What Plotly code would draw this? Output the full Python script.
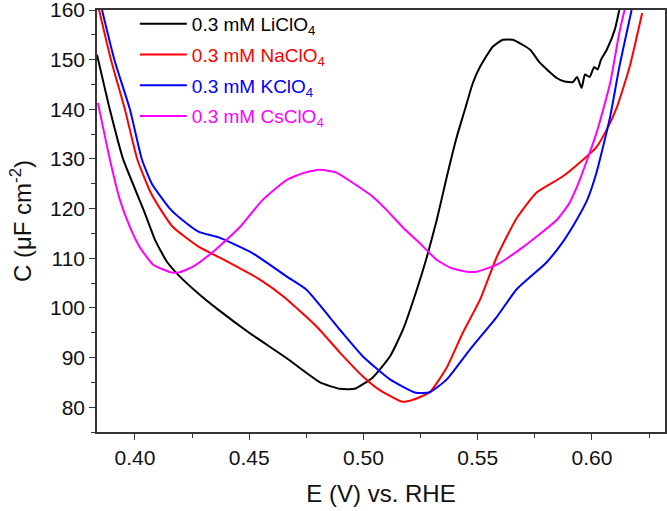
import plotly.graph_objects as go

# ---- data ----
li_x = [0.3834, 0.389, 0.3948, 0.404, 0.409, 0.414, 0.4197, 0.428, 0.436, 0.450, 0.466, 0.481, 0.4897, 0.4962,
        0.5041, 0.5116, 0.5173, 0.5234, 0.5278, 0.5321, 0.5365, 0.5409, 0.5444, 0.5479, 0.551, 0.5566,
        0.561, 0.5654, 0.573, 0.577, 0.5846, 0.588, 0.5917, 0.5935, 0.5955, 0.597, 0.599, 0.601, 0.6025,
        0.604, 0.6065, 0.61, 0.612]
li_y = [151, 140, 130, 119.5, 113.5, 109.3, 106.3, 102.8, 99.8, 95, 90, 85, 83.7, 83.7,
        86, 90.2, 95.6, 103.7, 110.3, 117.7, 126.4, 134.5, 139.9, 145.3, 148.5, 152.6,
        154, 154, 152, 149.5, 146.3, 145.6, 145.5, 146.5, 144.3, 147, 146.5, 148.5, 148,
        150, 152, 156, 160]

na_x = [0.3843, 0.3895, 0.3956, 0.401, 0.4066, 0.411, 0.4166, 0.428, 0.4372, 0.4547, 0.465, 0.4796, 0.4897,
        0.4998, 0.507, 0.517, 0.5217, 0.529, 0.5365, 0.5435, 0.551, 0.5584, 0.567, 0.5757, 0.587, 0.596,
        0.602, 0.6065, 0.611, 0.6165, 0.622]
na_y = [160, 150, 140, 130, 123.5, 120, 116.3, 112.3, 110.1, 105.7, 102.3, 96.2, 91,
        86.2, 83.5, 81.1, 81.5, 83, 88, 95, 101.6, 110.3, 118, 123.2, 126.4, 129.8,
        132.4, 135.9, 140.5, 148.5, 159.4]

k_x = [0.3856, 0.391, 0.3978, 0.403, 0.4074, 0.4153, 0.4205, 0.428, 0.4372, 0.4516, 0.4665, 0.475,
       0.4897, 0.4998, 0.5116, 0.523, 0.529, 0.5365, 0.5466, 0.5584, 0.567, 0.580, 0.587, 0.5933, 0.598,
       0.602, 0.608, 0.612, 0.6174]
k_y = [160, 150, 140, 130, 125, 120, 117.8, 115.3, 114.1, 111, 106.3, 103.7,
       95.6, 90.2, 85.6, 82.9, 83, 85.6, 91.6, 98.2, 103.7, 109.1, 113.1, 117.7, 121.8,
       127.2, 138.5, 148.5, 160]

cs_x = [0.3838, 0.389, 0.3934, 0.3978, 0.402, 0.408, 0.4162, 0.4197, 0.4254, 0.434, 0.4372, 0.446, 0.456,
        0.4665, 0.474, 0.4809, 0.488, 0.4953, 0.5041, 0.510, 0.5173, 0.5247, 0.532, 0.5385, 0.5453, 0.5496,
        0.5584, 0.570, 0.5846, 0.590, 0.5947, 0.602, 0.608, 0.612, 0.6143]
cs_y = [141.3, 130, 121.8, 116.3, 112.3, 108.7, 107.1, 107.2, 108.3, 111.2, 112.5, 116.3, 121.8,
        125.8, 127.2, 127.8, 127.3, 125.2, 122.4, 119.8, 116.2, 113.0, 109.7, 108.0, 107.3, 107.3,
        108.7, 112.3, 117.7, 121, 125.8, 135.2, 145.3, 155.4, 160]

series_names = ["0.3 mM LiClO<sub>4</sub>", "0.3 mM NaClO<sub>4</sub>",
                "0.3 mM KClO<sub>4</sub>", "0.3 mM CsClO<sub>4</sub>"]
series_colors = ["#000000", "#FF0000", "#0000FF", "#FF00FF"]
series_x = [li_x, na_x, k_x, cs_x]
series_y = [li_y, na_y, k_y, cs_y]

x_tickvals = [0.40, 0.45, 0.50, 0.55, 0.60]
y_tickvals = [80, 90, 100, 110, 120, 130, 140, 150, 160]

FONT = "Liberation Sans, Arial, sans-serif"

fig = go.Figure()
for i, (nm, col, xs, ys) in enumerate(zip(series_names, series_colors, series_x, series_y)):
    fig.add_trace(go.Scatter(
        x=xs, y=ys, mode="lines",
        name=f'<span style="color:{col}">{nm}</span>',
        legendgroup=f"g{i}",
        line=dict(color=col, width=2, shape="spline", smoothing=0.5),
    ))

axis_common = dict(
    showline=True, linecolor="#333333", linewidth=1.5, mirror=True,
    ticks="outside", ticklen=6, tickwidth=1.3, tickcolor="#333333",
    showgrid=False, zeroline=False, automargin=False,
    ticklabeloverflow="allow",
    tickfont=dict(family=FONT, size=21, color="#111111"),
)

fig.update_layout(
    width=667, height=511,
    margin=dict(l=97, r=2, t=10, b=79),
    paper_bgcolor="white", plot_bgcolor="white",
    font=dict(family=FONT, color="#111111"),
    xaxis=dict(range=[0.3834, 0.632], tickvals=x_tickvals, tickformat=".2f",
               minor=dict(ticks="outside", ticklen=4, tickwidth=1.2, tickcolor="#333333", dtick=0.025, tick0=0.4),
               title=dict(text="E (V) vs. RHE", font=dict(family=FONT, size=24), standoff=17),
               **axis_common),
    yaxis=dict(range=[75, 160], tickvals=y_tickvals,
               minor=dict(ticks="outside", ticklen=4, tickwidth=1.2, tickcolor="#333333", dtick=5, tick0=0),
               title=dict(text="C (μF cm<sup>-2</sup>)", font=dict(family=FONT, size=24), standoff=12),
               **axis_common),
    legend=dict(x=0.0666, y=1.012, xanchor="left", yanchor="top",
                bgcolor="rgba(0,0,0,0)", borderwidth=0,
                font=dict(family=FONT, size=19),
                tracegroupgap=3, itemwidth=47),
    showlegend=True,
)

fig.write_html("out.html", config={"displayModeBar": False},
               post_script="document.body.style.margin='0px';")
